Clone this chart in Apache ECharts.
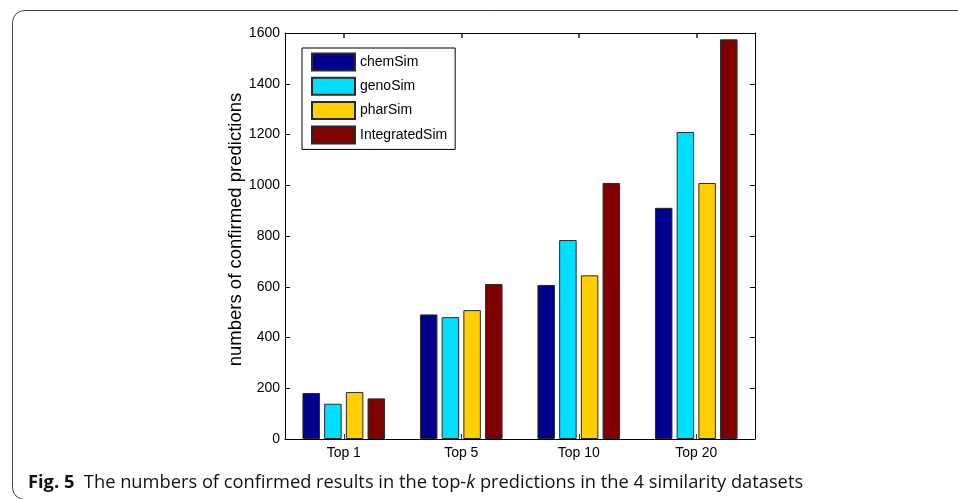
<!DOCTYPE html>
<html>
<head>
<meta charset="utf-8">
<script src="https://cdn.jsdelivr.net/npm/echarts@6/dist/echarts.min.js"></script>
<style>
html,body{margin:0;padding:0;background:#fff;}
#c{width:958px;height:499px;}
</style>
</head>
<body>
<div id="c"></div>
<script>
var categories = ['Top 1', 'Top 5', 'Top 10', 'Top 20'];
var seriesNames = ['chemSim', 'genoSim', 'pharSim', 'IntegratedSim'];
var chemSim = [181, 491, 607, 911];
var genoSim = [139, 480, 784, 1210];
var pharSim = [185, 508, 645, 1009];
var integratedSim = [160, 611, 1009, 1575];
var yTicks = [0, 200, 400, 600, 800, 1000, 1200, 1400, 1600];
var colors = ['#00008F', '#00DFFF', '#FFCF00', '#800000'];
var seriesData = [chemSim, genoSim, pharSim, integratedSim];

var tickFont = "'Liberation Sans', Arial, sans-serif";

var chart = echarts.init(document.getElementById('c'), null, {renderer: 'canvas'});

var series = seriesNames.map(function (n, i) {
  return {
    name: n,
    type: 'bar',
    data: seriesData[i],
    barWidth: 17.5,
    barGap: '24%',
    itemStyle: {color: colors[i], borderColor: '#2a2a2a', borderWidth: 1},
    emphasis: {disabled: true},
    animation: false
  };
});

var option = {
  animation: false,
  grid: {left: 285, right: 203, top: 33, bottom: 60, containLabel: false},
  legend: {
    orient: 'vertical',
    left: 302,
    top: 48,
    itemWidth: 43,
    itemHeight: 17,
    itemGap: 5.3,
    padding: [4.5, 8, 5, 9],
    borderColor: '#000',
    borderWidth: 1,
    backgroundColor: '#fff',
    icon: 'rect',
    selectedMode: false,
    textStyle: {fontFamily: tickFont, fontSize: 14, color: '#000'},
    data: seriesNames
  },
  xAxis: [{
    type: 'category',
    data: categories,
    position: 'bottom',
    axisLine: {show: true, lineStyle: {color: '#000', width: 1}},
    axisTick: {show: true, inside: true, alignWithLabel: true, length: 5, lineStyle: {color: '#333'}},
    axisLabel: {fontFamily: tickFont, fontSize: 14, color: '#000', margin: 7},
    splitLine: {show: false}
  }, {
    type: 'category',
    gridIndex: 0,
    data: categories,
    position: 'top',
    axisLine: {show: true, onZero: false, lineStyle: {color: '#000', width: 1}},
    axisTick: {show: true, inside: true, interval: 0, alignWithLabel: true, length: 5, lineStyle: {color: '#222', width: 1.5}},
    axisLabel: {show: true, interval: 0, color: 'rgba(0,0,0,0)', fontSize: 14},
    splitLine: {show: false},
    z: 5
  }],
  yAxis: [{
    type: 'value',
    min: yTicks[0],
    max: yTicks[yTicks.length - 1],
    interval: 200,
    position: 'left',
    name: 'numbers of confirmed predictions',
    nameLocation: 'middle',
    nameGap: 30,
    nameTextStyle: {fontFamily: "'Liberation Sans', Arial, sans-serif", fontSize: 18.5, color: '#000', padding: [0, 0, 0, 13]},
    axisLine: {show: true, lineStyle: {color: '#000', width: 1}},
    axisTick: {show: true, inside: true, length: 5, lineStyle: {color: '#000'}},
    axisLabel: {fontFamily: tickFont, fontSize: 14, color: '#000', margin: 5,
      formatter: function (v) { return String(v); }},
    splitLine: {show: false}
  }, {
    type: 'value',
    min: yTicks[0],
    max: yTicks[yTicks.length - 1],
    interval: 200,
    position: 'right',
    axisLine: {show: true, lineStyle: {color: '#000', width: 1}},
    axisTick: {show: true, inside: true, length: 5, lineStyle: {color: '#000'}},
    axisLabel: {show: false},
    splitLine: {show: false}
  }],
  series: series,
  graphic: [{
    type: 'rect',
    shape: {x: 12.5, y: 10.5, width: 1000, height: 489, r: 12},
    style: {fill: 'none', stroke: '#444', lineWidth: 1},
    silent: true,
    z: 100
  }, {
    type: 'text',
    left: 28,
    top: 474,
    style: {
      text: '{b|Fig. 5}  The numbers of confirmed results in the top-{i|k} predictions in the 4 similarity datasets',
      fontFamily: "'Open Sans', 'Noto Sans', sans-serif",
      fontSize: 18.3,
      fill: '#111',
      rich: {
        b: {fontWeight: 'bold', fontFamily: "'Open Sans', 'Noto Sans', sans-serif", fontSize: 18.3, fill: '#111'},
        i: {fontStyle: 'italic', fontFamily: "'Open Sans', 'Noto Sans', sans-serif", fontSize: 18.3, fill: '#111'}
      }
    },
    silent: true
  }]
};
chart.setOption(option);
</script>
</body>
</html>
